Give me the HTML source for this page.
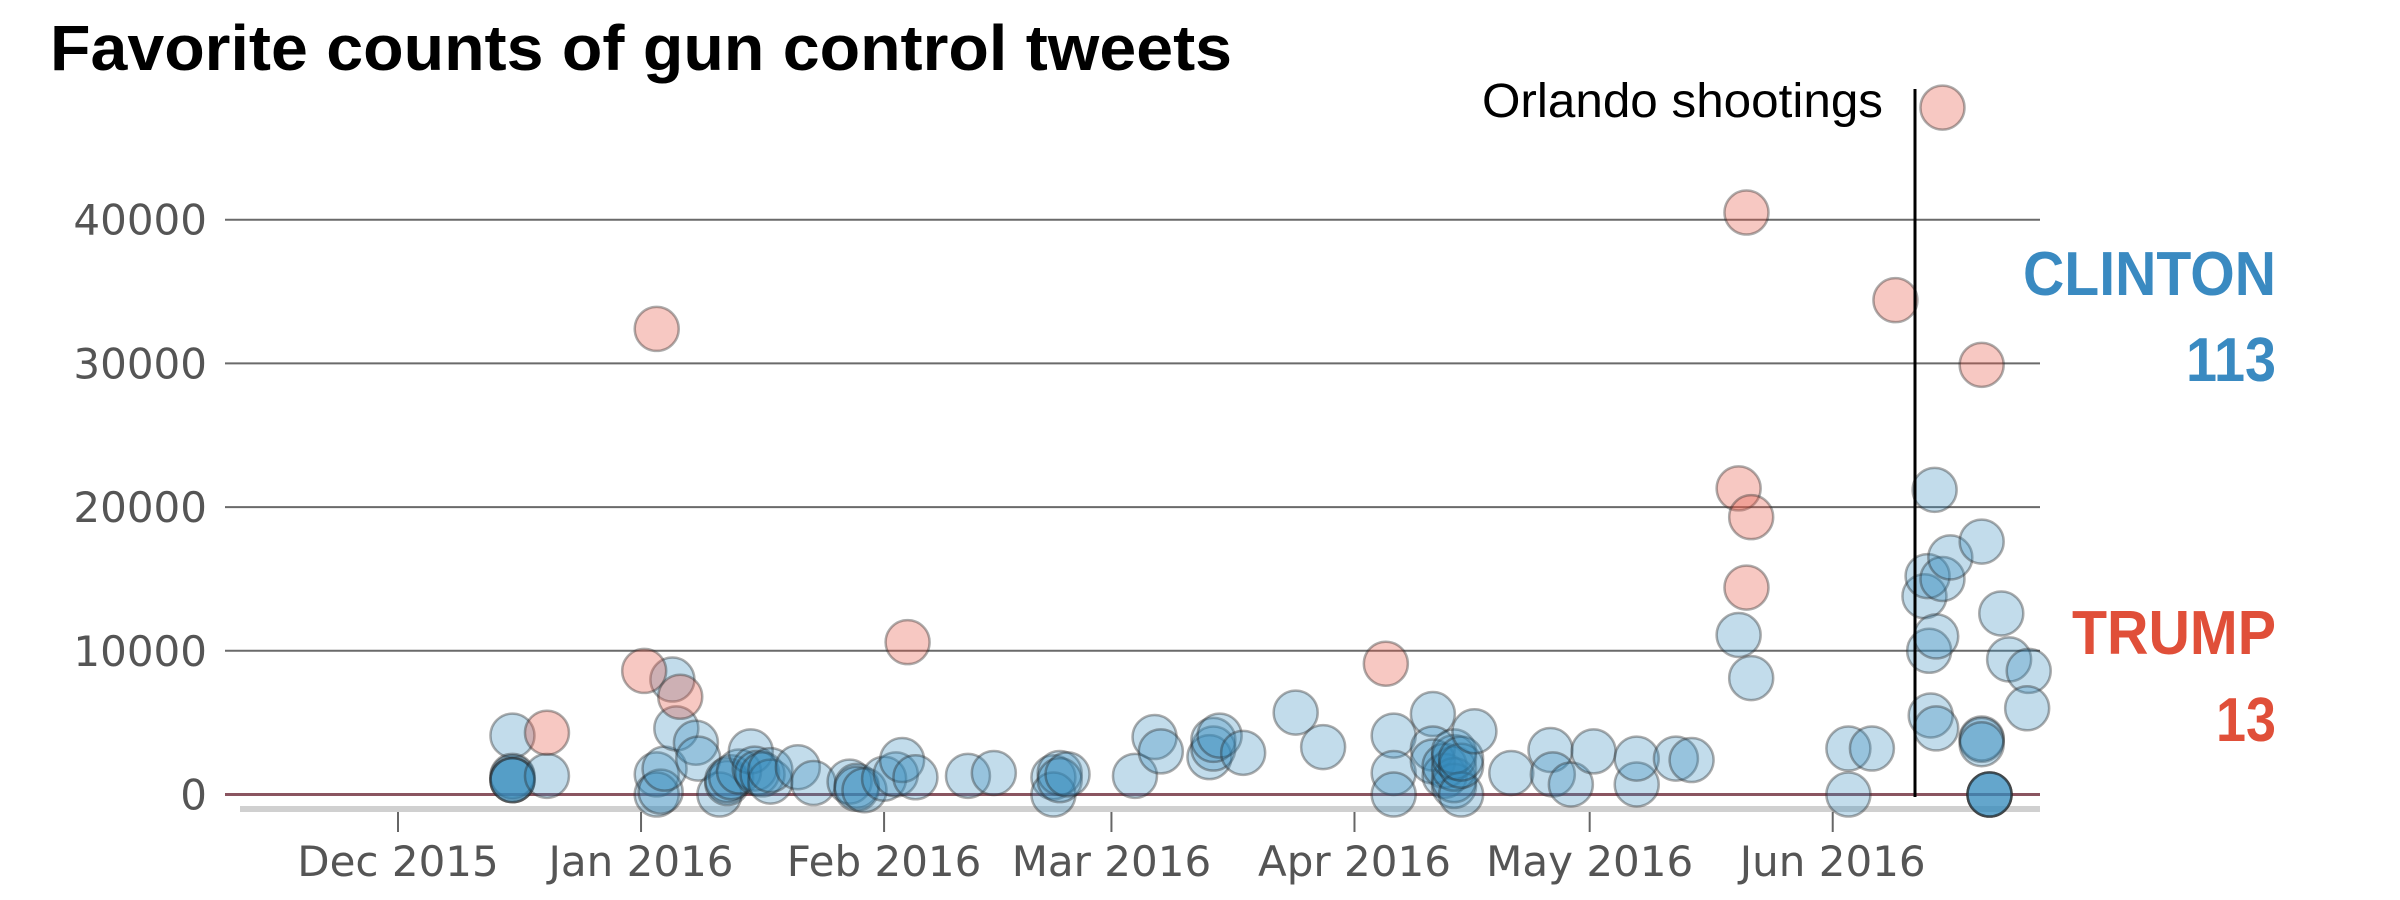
<!DOCTYPE html>
<html><head><meta charset="utf-8"><style>
html,body{margin:0;padding:0;background:#fff;}
svg{display:block;}
</style></head><body>
<svg id="chart" width="2400" height="900" viewBox="0 0 2400 900" xmlns="http://www.w3.org/2000/svg">
<text x="50" y="70" font-family="Liberation Sans, Arial, sans-serif" font-weight="bold" font-size="64" textLength="1182" lengthAdjust="spacingAndGlyphs">Favorite counts of gun control tweets</text>
<g id="grid"></g>
<g id="xaxis"></g>
<g id="points"></g>
<line x1="1915" y1="89" x2="1915" y2="797" stroke="#000" stroke-width="3"/>
<text x="1883" y="117" text-anchor="end" font-family="Liberation Sans, Arial, sans-serif" font-size="48" textLength="401" lengthAdjust="spacingAndGlyphs">Orlando shootings</text>
<text x="2276" y="295" text-anchor="end" font-family="Liberation Sans, Arial, sans-serif" font-weight="bold" font-size="62" fill="#3a8ac1" textLength="253" lengthAdjust="spacingAndGlyphs">CLINTON</text>
<text x="2276" y="381" text-anchor="end" font-family="Liberation Sans, Arial, sans-serif" font-weight="bold" font-size="62" fill="#3a8ac1" textLength="90" lengthAdjust="spacingAndGlyphs">113</text>
<text x="2276" y="654" text-anchor="end" font-family="Liberation Sans, Arial, sans-serif" font-weight="bold" font-size="62" fill="#e04f39" textLength="204" lengthAdjust="spacingAndGlyphs">TRUMP</text>
<text x="2276" y="741" text-anchor="end" font-family="Liberation Sans, Arial, sans-serif" font-weight="bold" font-size="62" fill="#e04f39" textLength="60" lengthAdjust="spacingAndGlyphs">13</text>
</svg>
<script>
// days since 2015-12-01
const yTicks = [0, 10000, 20000, 30000, 40000];
const xTickLabels = ["Dec 2015","Jan 2016","Feb 2016","Mar 2016","Apr 2016","May 2016","Jun 2016"];
const xTickDays = [0, 31, 62, 91, 122, 152, 183];
const trumpDays = [19, 33, 31.4, 36, 65, 126, 172, 171, 172.6, 172, 191, 197, 202];
const trumpFavs = [4300, 32400, 8600, 6800, 10600, 9100, 40500, 21300, 19300, 14400, 34400, 47800, 29900];
const clintonDays = [14.6,14.6,14.6,14.6,14.6,14.6,19,
 33,33,33.5,34,35,35.5,38,38.3,41,42,42,42.5,43.5,45,45.5,45.8,46.5,47.5,47.5,51,53,
 57.6,58.5,58.5,59.5,62,63.5,64.3,66,72.7,76,
 83.6,83.6,84.4,84.4,85.4,94,96.5,97.3,103.5,104,104,104.8,107.8,114.5,118,
 127,127,127,132,132,132,133.5,133.5,134.7,134.7,134.7,134.7,134.7,135.6,135.6,135.6,137.3,
 142,147,147.3,149.6,152.5,158,158,163,165,171,172.6,
 185,185,188,194.7,195.3,195.5,196,195.1,196.2,196.2,197,198,
 202,202,202,202,203,203,203,203,204.5,205.5,208,207.8];
const clintonFavs = [4100,1300,1200,1000,1000,1000,1300,
 1400,0,200,1800,8000,4600,3600,2500,0,800,1000,1200,1600,3000,1800,1500,1400,900,1700,1900,800,
 900,600,400,300,1100,1400,2400,1200,1300,1500,
 1200,0,1500,1000,1400,1300,4000,3000,2600,3200,3800,4100,2900,5700,3300,
 4100,1500,0,5600,3200,2300,1300,2000,600,1000,1800,2600,3000,0,2000,2500,4400,
 1500,3100,1400,700,3000,700,2500,2500,2400,11100,8100,
 3200,0,3200,13800,10000,5500,21200,15200,4600,11000,15000,16500,
 17600,3900,3800,3500,0,0,0,0,12600,9400,8600,6000];

const NS = "http://www.w3.org/2000/svg";
const X0 = 398, PX_PER_DAY = 7.84, Y0 = 794.5, PX_PER_UNIT = 0.01437;
function xScale(d){ return X0 + d * PX_PER_DAY; }
function yScale(v){ return Y0 - v * PX_PER_UNIT; }
function mk(tag, attrs, parent){
  const el = document.createElementNS(NS, tag);
  for (const k in attrs) el.setAttribute(k, attrs[k]);
  parent.appendChild(el);
  return el;
}
const grid = document.getElementById("grid");
const xaxis = document.getElementById("xaxis");
const pts = document.getElementById("points");

yTicks.forEach(function(v){
  const y = yScale(v);
  const gl = mk("line", {x1:225, x2:2040, y1:y, y2:y, stroke: v===0 ? "#8a5560" : "#6a6a6a", "stroke-width": v===0 ? 3 : 2}, grid);
  
  
  const t = mk("text", {x:207, y:y+15, "text-anchor":"end", "font-family":"DejaVu Sans, sans-serif", "font-size":42, fill:"#555"}, grid);
  t.textContent = String(v);
  
  
});

const base = mk("line", {x1:240, x2:2040, y1:809, y2:809, stroke:"#d0d0d0", "stroke-width":6}, xaxis);


xTickDays.forEach(function(d, i){
  const x = xScale(d);
  const tk = mk("line", {x1:x, x2:x, y1:812, y2:832, stroke:"#666", "stroke-width":2}, xaxis);
  
  
  const t = mk("text", {x:x, y:876, "text-anchor":"middle", "font-family":"DejaVu Sans, sans-serif", "font-size":42, fill:"#555"}, xaxis);
  t.textContent = xTickLabels[i];
  
  
});

clintonDays.forEach(function(d, i){
  const c = mk("circle", {cx:xScale(d), cy:yScale(clintonFavs[i]), r:22, fill:"rgba(52,138,190,0.3)", stroke:"rgba(40,40,40,0.38)", "stroke-width":2.5}, pts);
  
  
});
trumpDays.forEach(function(d, i){
  const c = mk("circle", {cx:xScale(d), cy:yScale(trumpFavs[i]), r:22, fill:"rgba(230,85,65,0.32)", stroke:"rgba(40,40,40,0.38)", "stroke-width":2.5}, pts);
  
  
});
</script>
</body></html>
